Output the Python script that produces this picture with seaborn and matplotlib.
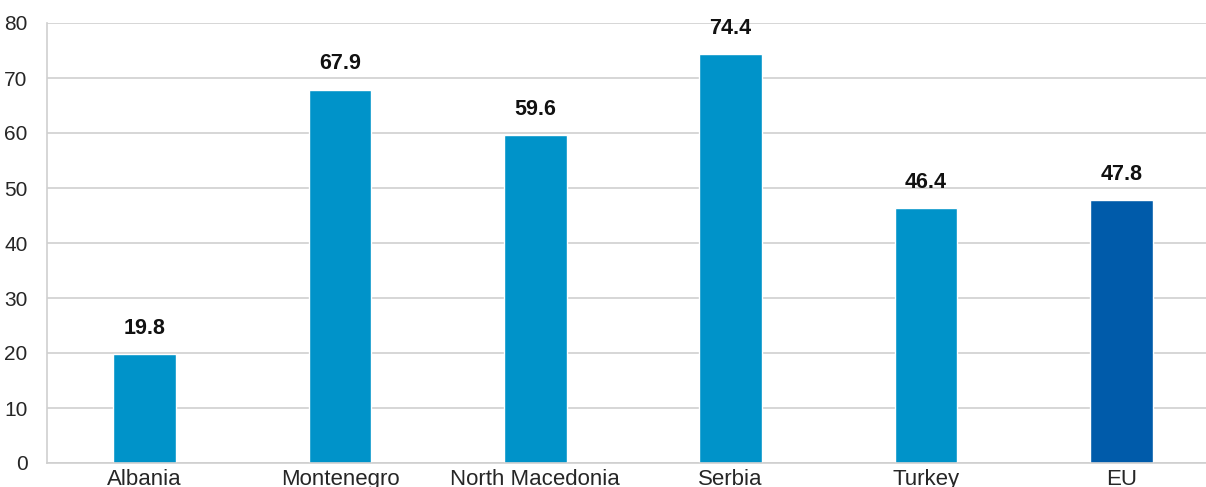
import pandas as pd
import seaborn as sns
import matplotlib.pyplot as plt

# Chart data
countries = ["Albania", "Montenegro", "North Macedonia", "Serbia", "Turkey", "EU"]
values = [19.8, 67.9, 59.6, 74.4, 46.4, 47.8]
bar_colors = ["#0093C9", "#0093C9", "#0093C9", "#0093C9", "#0093C9", "#005BAA"]

df = pd.DataFrame({"Country": countries, "Value": values})

sns.set_style("white")
plt.rcParams['font.family'] = ['Liberation Sans Narrow', 'Liberation Sans', 'DejaVu Sans']

fig = plt.figure(figsize=(12.06, 4.87), dpi=100)
# plot area runs a little past the right edge of the picture
ax = fig.add_axes([47 / 1206, 1 - 463 / 487, (1219 - 47) / 1206, 440 / 487])

sns.barplot(data=df, x="Country", y="Value", hue="Country", palette=bar_colors,
            legend=False, width=0.32, saturation=1, ax=ax)

for c in ax.containers:
    ax.bar_label(c, fmt="%.1f", padding=11, fontsize=15.5, fontweight="bold", color="#111111")

ax.set_ylim(0, 80)
ax.set_xlim(-0.5, len(countries) - 0.5)
ax.set_yticks(range(0, 81, 10))
ax.yaxis.grid(True, color="#d0d0d0", linewidth=1.2)
ax.set_axisbelow(True)

# category separators below the axis
ax.set_xticks([i - 0.5 for i in range(len(countries) + 1)], minor=True)
ax.tick_params(axis="x", which="minor", length=26, color="#cfcfcf", width=1.2, direction="out")
ax.tick_params(axis="x", which="major", length=0, pad=4, labelsize=16)
ax.tick_params(axis="y", length=0, pad=14, labelsize=15)

for side in ["top", "right"]:
    ax.spines[side].set_visible(False)
ax.spines["left"].set_color("#cfcfcf")
ax.spines["bottom"].set_color("#cfcfcf")
ax.spines["left"].set_linewidth(1.2)
ax.spines["bottom"].set_linewidth(1.2)

ax.set_xlabel("")
ax.set_ylabel("")

fig.savefig("out.png", dpi=100)
